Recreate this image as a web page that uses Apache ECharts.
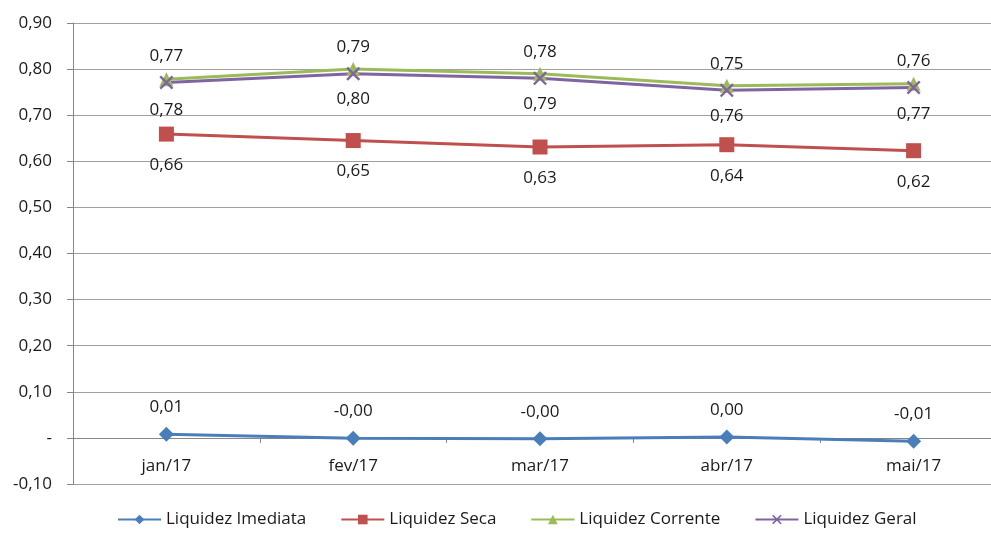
<!DOCTYPE html>
<html>
<head>
<meta charset="utf-8">
<script src="https://cdn.jsdelivr.net/npm/echarts@6/dist/echarts.min.js"></script>
<style>
html,body{margin:0;padding:0;background:#fff;overflow:hidden;}
#chart{width:1007px;height:534px;}
</style>
</head>
<body>
<div id="chart"></div>
<script>
// meses
var categories = ['jan/17', 'fev/17', 'mar/17', 'abr/17', 'mai/17'];
// indices de liquidez
var imediata = [0.008, -0.001, -0.002, 0.002, -0.007];
var seca = [0.659, 0.645, 0.631, 0.636, 0.623];
var corrente = [0.778, 0.800, 0.790, 0.764, 0.768];
var geral = [0.771, 0.790, 0.780, 0.754, 0.760];
var yTicks = { min: -0.1, max: 0.9, step: 0.1 };

var fonte = 'Open Sans, Noto Sans, sans-serif';
var xPath = 'path://M0,1.2L1.2,0L5,3.8L8.8,0L10,1.2L6.2,5L10,8.8L8.8,10L5,6.2L1.2,10L0,8.8L3.8,5Z';

function fmt(v){
	return v.toFixed(2).replace('.', ',');
}

function serie(nome, dados, cor, simbolo, tam, pos){
	return {
		name: nome,
		type: 'line',
		data: dados,
		symbol: simbolo,
		symbolSize: tam,
		lineStyle: { color: cor, width: 3 },
		itemStyle: { color: cor },
		label: {
			show: true,
			position: pos,
			distance: pos == 'top' ? 11 : 15,
			color: '#1a1a1a',
			fontFamily: fonte,
			fontSize: 17,
			formatter: function(p){ return fmt(p.value); }
		}
	};
}

var myChart = echarts.init(document.getElementById('chart'));
var option = {
	animation: false,
	grid: { left: 73, right: 0, top: 23, bottom: 50 },
	legend: {
		bottom: 1,
		left: 112,
		itemWidth: 43,
		itemHeight: 12,
		itemGap: 34,
		textStyle: { fontFamily: fonte, fontSize: 17, color: '#1a1a1a' },
		data: ['Liquidez Imediata', 'Liquidez Seca', 'Liquidez Corrente', 'Liquidez Geral']
	},
	xAxis: {
		type: 'category',
		data: categories,
		boundaryGap: true,
		axisLine: { onZero: true, lineStyle: { color: '#868686' } },
		axisTick: { show: true, length: 5, lineStyle: { color: '#868686' } },
		axisLabel: { margin: -26, color: '#1a1a1a', fontFamily: fonte, fontSize: 17 }
	},
	yAxis: {
		type: 'value',
		min: yTicks.min,
		max: yTicks.max,
		interval: yTicks.step,
		axisLine: { show: true, lineStyle: { color: '#868686' } },
		axisTick: { show: true, length: 6, lineStyle: { color: '#868686' } },
		splitLine: { lineStyle: { color: '#a0a0a0' } },
		axisLabel: {
			margin: 21,
			color: '#1a1a1a',
			fontFamily: fonte,
			fontSize: 17,
			formatter: function(v){
				if (Math.abs(v) < 1e-9) return '-';
				return fmt(v);
			}
		}
	},
	series: [
		serie('Liquidez Imediata', imediata, '#4a7ebb', 'diamond', 15, 'top'),
		serie('Liquidez Seca', seca, '#c0504d', 'rect', 15, 'bottom'),
		serie('Liquidez Corrente', corrente, '#9bbb59', 'triangle', 14, 'bottom'),
		serie('Liquidez Geral', geral, '#8064a2', xPath, 14, 'top')
	]
};
myChart.setOption(option);
</script>
</body>
</html>
